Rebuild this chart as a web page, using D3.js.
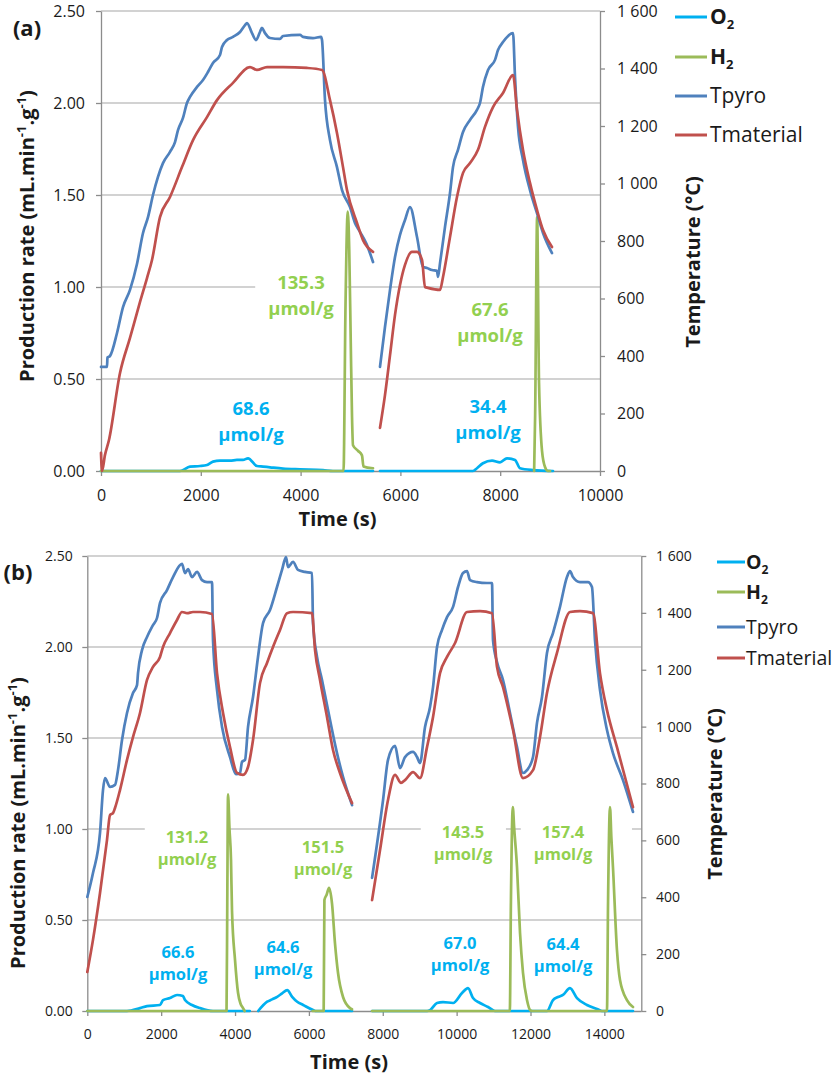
<!DOCTYPE html>
<html><head><meta charset="utf-8">
<script src="https://cdn.jsdelivr.net/npm/d3@7"></script>
<style>
body{margin:0;background:#fff}
svg{display:block}
text{font-family:"Open Sans",sans-serif}
</style>
</head><body>
<svg id="chart" width="834" height="1078"></svg>
<script>
// ---------------- DATA ----------------
const seriesNames = ["O2", "H2", "Tpyro", "Tmaterial"];
const rateTicks = [0, 0.5, 1.0, 1.5, 2.0, 2.5];
const tempTicks = [0, 200, 400, 600, 800, 1000, 1200, 1400, 1600];
const timeTicksA = [0, 2000, 4000, 6000, 8000, 10000];
const timeTicksB = [0, 2000, 4000, 6000, 8000, 10000, 12000, 14000];

// Panel (a)  [time s, value]
const aO2_1 = [[0,0],[1583,0],[1784,0.024],[1984,0.027],[2124,0.033],[2245,0.051],[2385,0.056],[2585,0.056],[2725,0.06],[2846,0.06],[2946,0.069],[3126,0.027],[3247,0.024],[3387,0.02],[3647,0.013],[3988,0.009],[4449,0.005],[4649,0],[5451,0]];
const aO2_2 = [[5591,0],[7455,0],[7535,0.015],[7655,0.042],[7836,0.056],[7996,0.047],[8136,0.069],[8297,0.06],[8397,0.015],[8657,0.005],[9058,0]];
const aH2_1 = [[0,0],[4860,0],[4900,0.9],[4945,1.41],[4975,1.2],[5005,0.7],[5030,0.3],[5050,0.14],[5150,0.11],[5230,0.085],[5260,0.025],[5451,0.015]];
const aH2_2 = [[8680,0],[8700,0.3],[8740,1.38],[8778,0.48],[8838,0.11],[8898,0.022],[8958,0],[9000,0]];
const aTpyro_1 = [[0,362],[120,362],[130,395],[180,400],[321,480],[441,570],[581,630],[721,720],[842,828],[942,883],[1042,960],[1142,1023],[1242,1071],[1383,1110],[1483,1144],[1543,1186],[1643,1228],[1723,1280],[1784,1301],[1924,1336],[2044,1360],[2144,1388],[2244,1419],[2385,1447],[2425,1475],[2525,1499],[2645,1510],[2786,1527],[2886,1551],[2926,1558],[3026,1523],[3106,1499],[3186,1527],[3226,1541],[3287,1523],[3387,1506],[3587,1503],[3647,1513],[3988,1517],[4048,1510],[4248,1506],[4409,1510],[4429,1499],[4489,1290],[4589,1151],[4729,1057],[4830,977],[4990,918],[5090,863],[5190,832],[5320,790],[5451,727]];
const aTpyro_2 = [[5591,362],[5691,501],[5792,630],[5892,744],[5992,821],[6092,873],[6192,918],[6333,814],[6453,710],[6533,706],[6633,699],[6733,696],[6754,675],[6794,723],[6894,849],[6994,967],[7054,1057],[7154,1117],[7255,1179],[7395,1221],[7535,1256],[7595,1280],[7655,1336],[7756,1395],[7896,1430],[7956,1464],[8056,1492],[8257,1523],[8297,1370],[8357,1197],[8457,1082],[8597,977],[8737,897],[8858,828],[9038,758]];
const aTmat_1 = [[0,63],[20,0],[80,56],[160,108],[381,341],[581,463],[782,588],[922,671],[1022,734],[1182,883],[1383,953],[1623,1057],[1844,1151],[2124,1231],[2325,1290],[2645,1350],[2986,1405],[3126,1395],[3327,1405],[3647,1405],[4128,1402],[4429,1395],[4589,1290],[4729,1176],[4850,1057],[4930,977],[5130,863],[5251,803],[5451,762]];
const aTmat_2 = [[5591,150],[5691,264],[5792,403],[5892,543],[5992,647],[6092,717],[6232,762],[6333,762],[6433,734],[6493,640],[6553,637],[6794,630],[6854,675],[6994,814],[7134,953],[7255,1037],[7395,1071],[7555,1117],[7695,1197],[7856,1266],[8056,1315],[8257,1377],[8337,1256],[8457,1117],[8597,1002],[8737,908],[8858,838],[9038,779]];
const aLabelTexts = ["135.3", "68.6", "67.6", "34.4"];
const aLabelSeries = ["H2", "O2", "H2", "O2"];

// Panel (b)
const bO2_1 = [[0,0],[1075,0],[1427,0.016],[1617,0.027],[1969,0.033],[2050,0.06],[2240,0.071],[2429,0.088],[2591,0.082],[2646,0.06],[2835,0.033],[3052,0.016],[3404,0],[4400,0]];
const bO2_2 = [[4627,0],[4870,0.051],[5006,0.064],[5141,0.078],[5276,0.097],[5412,0.115],[5547,0.078],[5683,0.051],[5845,0.033],[6116,0.005],[6200,0],[7168,0]];
const bO2_3 = [[7710,0],[9200,0],[9280,0.005],[9469,0.044],[9632,0.049],[9903,0.044],[10146,0.099],[10308,0.126],[10444,0.071],[10633,0.044],[10850,0.022],[11039,0],[12446,0],[12609,0.06],[12744,0.077],[12879,0.088],[13069,0.126],[13259,0.071],[13529,0.033],[13800,0.011],[13935,0],[14775,0]];
const bH2_1 = [[0,0],[3770,0],[3790,0.6],[3810,1.19],[3850,1.0],[3891,0.83],[3918,0.55],[4000,0.28],[4081,0.10],[4150,0.04],[4217,0.016],[4260,0]];
const bH2_2 = [[6100,0],[6400,0],[6420,0.61],[6482,0.64],[6545,0.676],[6626,0.59],[6707,0.37],[6788,0.21],[6924,0.077],[7113,0.016],[7168,0.01]];
const bH2_3 = [[7710,0],[11440,0],[11470,0.6],[11520,1.12],[11560,1.0],[11635,0.79],[11716,0.43],[11797,0.21],[11905,0.06],[11990,0.005],[12050,0],[14070,0],[14100,0.6],[14152,1.12],[14190,0.95],[14233,0.79],[14341,0.335],[14423,0.17],[14612,0.06],[14775,0.022]];
const bTpyro_1 = [[0,401],[154,485],[344,626],[425,777],[479,819],[615,788],[750,795],[831,847],[940,953],[1075,1048],[1237,1118],[1346,1146],[1373,1188],[1481,1269],[1617,1315],[1779,1357],[1887,1382],[1969,1435],[2158,1480],[2321,1526],[2564,1572],[2646,1540],[2727,1554],[2835,1526],[2971,1544],[3106,1515],[3242,1508],[3377,1508],[3404,1304],[3512,1129],[3648,999],[3864,893],[4027,833],[4135,837],[4189,876],[4270,883],[4352,999],[4487,1104],[4622,1245],[4758,1364],[4947,1410],[5137,1491],[5272,1551],[5380,1596],[5435,1561],[5570,1579],[5705,1551],[5895,1544],[6084,1540],[6112,1364],[6220,1245],[6355,1164],[6572,1023],[6761,907],[6924,823],[7168,724]];
const bTpyro_2 = [[7710,468],[8008,742],[8142,883],[8332,932],[8467,854],[8603,893],[8820,911],[8928,893],[9008,872],[9144,999],[9280,1069],[9361,1139],[9469,1280],[9605,1340],[9740,1385],[9903,1421],[10038,1491],[10173,1540],[10281,1547],[10363,1515],[10552,1508],[10823,1505],[10958,1505],[10985,1304],[11093,1227],[11256,1164],[11445,1048],[11635,928],[11797,837],[11905,847],[12068,893],[12176,1013],[12311,1104],[12446,1259],[12609,1329],[12798,1421],[12988,1526],[13069,1547],[13150,1526],[13340,1508],[13556,1508],[13664,1491],[13746,1304],[13881,1129],[14071,988],[14233,907],[14504,812],[14775,700]];
const bTmat_1 = [[0,137],[154,250],[344,415],[533,601],[615,689],[696,696],[750,714],[885,777],[1075,883],[1237,963],[1427,1048],[1617,1164],[1779,1210],[1969,1245],[2050,1280],[2240,1329],[2429,1375],[2564,1403],[2700,1399],[2862,1403],[3052,1403],[3377,1396],[3512,1188],[3675,1048],[3864,928],[4054,837],[4216,830],[4352,858],[4487,953],[4676,1153],[4866,1224],[5028,1280],[5218,1340],[5407,1399],[5570,1403],[6084,1399],[6166,1269],[6301,1164],[6490,1034],[6653,918],[6842,837],[7168,731]];
const bTmat_2 = [[7710,390],[7926,566],[8142,742],[8332,830],[8494,802],[8603,812],[8820,840],[9008,819],[9198,928],[9361,1034],[9550,1188],[9740,1245],[9957,1294],[10281,1403],[10633,1406],[10958,1399],[11093,1210],[11256,1139],[11527,988],[11797,819],[12068,847],[12257,963],[12446,1118],[12717,1259],[13069,1403],[13340,1406],[13692,1399],[13881,1188],[14071,1058],[14341,928],[14775,717]];
const bLabelTexts = ["131.2", "151.5", "143.5", "157.4", "66.6", "64.6", "67.0", "64.4"];
const bLabelSeries = ["H2", "H2", "H2", "H2", "O2", "O2", "O2", "O2"];
const unitText = "µmol/g";

// ---------------- STYLE / LAYOUT ----------------
const colors = {O2: "#00B0F0", H2: "#9BBB59", Tpyro: "#4F81BD", Tmaterial: "#C0504D"};
const labelColors = {O2: "#00B0F0", H2: "#92D050"};
const gridColor = "#c3c3c3", axisColor = "#8c8c8c", textColor = "#1a1a1a";

const layoutA = {
  x0: 101, x1: 600, yTop: 11, yBot: 471, xMax: 10000, timeTicks: timeTicksA,
  tickFs: 16, leftPad: 11, rightPad: 12, bottomPad: 13.5,
  titleX: 337.5, titleY: 526, leftTitleX: 34, leftTitleY: 236, rightTitleX: 700, rightTitleY: 262,
  panel: {text: "(a)", x: 27, y: 28, fs: 22},
  legend: {x0: 675, x1: 707, tx: 710, ys: [17, 57, 96, 135], fs: 21},
  labelFs: 18.5, labelGap: 26,
  labels: [{t: 4008, v: 1.022}, {t: 3006, v: 0.342}, {t: 7796, v: 0.875}, {t: 7756, v: 0.348}],
  series: {O2: [aO2_1, aO2_2], H2: [aH2_1, aH2_2], Tpyro: [aTpyro_1, aTpyro_2], Tmaterial: [aTmat_1, aTmat_2]},
  labelTexts: aLabelTexts, labelSeries: aLabelSeries
};
const layoutB = {
  x0: 87.3, x1: 641.3, yTop: 556, yBot: 1011, xMax: 15000, timeTicks: timeTicksB,
  tickFs: 14, leftPad: 9.5, rightPad: 9.7, bottomPad: 13,
  titleX: 349, titleY: 1069, leftTitleX: 25, leftTitleY: 823, rightTitleX: 722, rightTitleY: 794,
  panel: {text: "(b)", x: 18, y: 572, fs: 22},
  legend: {x0: 717, x1: 745, tx: 746, ys: [562, 592, 627, 658], fs: 19.5},
  labelFs: 16.5, labelGap: 22,
  labels: [{t: 2700, v: 0.956}, {t: 6382, v: 0.901}, {t: 10173, v: 0.984}, {t: 12881, v: 0.984, extraR: 26},
           {t: 2456, v: 0.324}, {t: 5300, v: 0.352}, {t: 10093, v: 0.374}, {t: 12881, v: 0.368}],
  series: {O2: [bO2_1, bO2_2, bO2_3], H2: [bH2_1, bH2_2, bH2_3], Tpyro: [bTpyro_1, bTpyro_2], Tmaterial: [bTmat_1, bTmat_2]},
  labelTexts: bLabelTexts, labelSeries: bLabelSeries
};

const svg = d3.select("#chart");
const fmtTemp = d => d >= 1000 ? Math.floor(d / 1000) + "\u00a0" + String(d % 1000).padStart(3, "0") : String(d);

function drawPanel(L) {
  const g = svg.append("g");
  const x = d3.scaleLinear().domain([0, L.xMax]).range([L.x0, L.x1]);
  const yL = d3.scaleLinear().domain([0, 2.5]).range([L.yBot, L.yTop]);
  const yR = d3.scaleLinear().domain([0, 1600]).range([L.yBot, L.yTop]);

  // gridlines
  g.append("g").selectAll("line").data(rateTicks.filter(d => d > 0)).join("line")
    .attr("x1", L.x0).attr("x2", L.x1)
    .attr("y1", d => yL(d)).attr("y2", d => yL(d))
    .attr("stroke", gridColor).attr("stroke-width", 1.3);

  const boxLayer = g.append("g");

  // axes
  const styleAxis = (sel, fs) => {
    sel.select(".domain").attr("stroke", axisColor).attr("stroke-width", 1.3);
    sel.selectAll(".tick line").attr("stroke", axisColor).attr("stroke-width", 1.3);
    sel.selectAll(".tick text").attr("fill", textColor).style("font-size", fs + "px")
      .style("font-family", '"Open Sans", sans-serif');
  };
  g.append("g").attr("transform", `translate(${L.x0},0)`)
    .call(d3.axisLeft(yL).tickValues(rateTicks).tickFormat(d3.format(".2f")).tickSize(5).tickSizeOuter(0).tickPadding(L.leftPad))
    .call(s => styleAxis(s, L.tickFs));
  g.append("g").attr("transform", `translate(${L.x1},0)`)
    .call(d3.axisRight(yR).tickValues(tempTicks).tickFormat(fmtTemp).tickSize(5).tickSizeOuter(0).tickPadding(L.rightPad))
    .call(s => styleAxis(s, L.tickFs));
  const xa = g.append("g").attr("transform", `translate(0,${L.yBot})`)
    .call(d3.axisBottom(x).tickValues(L.timeTicks).tickFormat(d3.format("d")).tickSize(5).tickSizeOuter(0).tickPadding(L.bottomPad))
    .call(s => styleAxis(s, L.tickFs));
  xa.select(".domain").attr("d", `M${L.x0},0.5H${L.x1}`);

  // series
  const lineL = d3.line().curve(d3.curveMonotoneX).x(d => x(d[0])).y(d => yL(d[1]));
  const lineR = d3.line().curve(d3.curveMonotoneX).x(d => x(d[0])).y(d => yR(d[1]));
  seriesNames.forEach(name => {
    const gen = (name === "O2" || name === "H2") ? lineL : lineR;
    g.append("g").selectAll("path").data(L.series[name]).join("path")
      .attr("d", gen).attr("fill", "none").attr("stroke", colors[name])
      .attr("stroke-width", 2.7).attr("stroke-linejoin", "round").attr("stroke-linecap", "round");
  });

  // annotation labels
  L.labelTexts.forEach((txt, i) => {
    const pos = L.labels[i];
    const cx = x(pos.t), cy = yL(pos.v);
    const t = g.append("text").attr("text-anchor", "middle").attr("fill", labelColors[L.labelSeries[i]])
      .style("font-size", L.labelFs + "px").style("font-weight", "bold");
    t.append("tspan").attr("x", cx).attr("y", cy).attr("dy", "0.35em").text(txt);
    t.append("tspan").attr("x", cx).attr("y", cy + L.labelGap).attr("dy", "0.35em").text(unitText);
    const bb = t.node().getBBox();
    const pad = 13;
    boxLayer.append("rect")
      .attr("x", bb.x - pad).attr("y", bb.y)
      .attr("width", bb.width + 2 * pad + (pos.extraR || 0)).attr("height", bb.height)
      .attr("fill", "#fff");
  });

  // axis titles
  g.append("text").attr("x", L.titleX).attr("y", L.titleY).attr("text-anchor", "middle")
    .style("font-size", "20px").style("font-weight", "bold").attr("fill", textColor).text("Time (s)");
  const lt = g.append("text").attr("transform", `translate(${L.leftTitleX},${L.leftTitleY}) rotate(-90)`)
    .attr("text-anchor", "middle").style("font-size", "20px").style("font-weight", "bold").attr("fill", textColor);
  lt.append("tspan").text("Production rate (mL.min");
  lt.append("tspan").attr("dy", -8).style("font-size", "13px").text("-1");
  lt.append("tspan").attr("dy", 8).text(".g");
  lt.append("tspan").attr("dy", -8).style("font-size", "13px").text("-1");
  lt.append("tspan").attr("dy", 8).text(")");
  g.append("text").attr("transform", `translate(${L.rightTitleX},${L.rightTitleY}) rotate(-90)`)
    .attr("text-anchor", "middle").style("font-size", "20px").style("font-weight", "bold").attr("fill", textColor)
    .text("Temperature (°C)");

  // panel letter
  g.append("text").attr("x", L.panel.x).attr("y", L.panel.y).attr("dy", "0.35em").attr("text-anchor", "middle")
    .style("font-size", L.panel.fs + "px").style("font-weight", "bold").attr("fill", textColor).text(L.panel.text);

  // legend
  const lg = g.append("g");
  seriesNames.forEach((name, i) => {
    const yy = L.legend.ys[i];
    lg.append("line").attr("x1", L.legend.x0).attr("x2", L.legend.x1).attr("y1", yy).attr("y2", yy)
      .attr("stroke", colors[name]).attr("stroke-width", 3);
    const t = lg.append("text").attr("x", L.legend.tx).attr("y", yy).attr("dy", "0.35em")
      .style("font-size", L.legend.fs + "px").attr("fill", textColor);
    if (name === "O2" || name === "H2") {
      t.style("font-weight", "bold");
      t.append("tspan").text(name[0]);
      t.append("tspan").attr("dy", 5).style("font-size", (L.legend.fs * 0.62) + "px").text(name[1]);
    } else {
      t.text(name);
    }
  });
}

drawPanel(layoutA);
drawPanel(layoutB);
</script>
</body></html>
